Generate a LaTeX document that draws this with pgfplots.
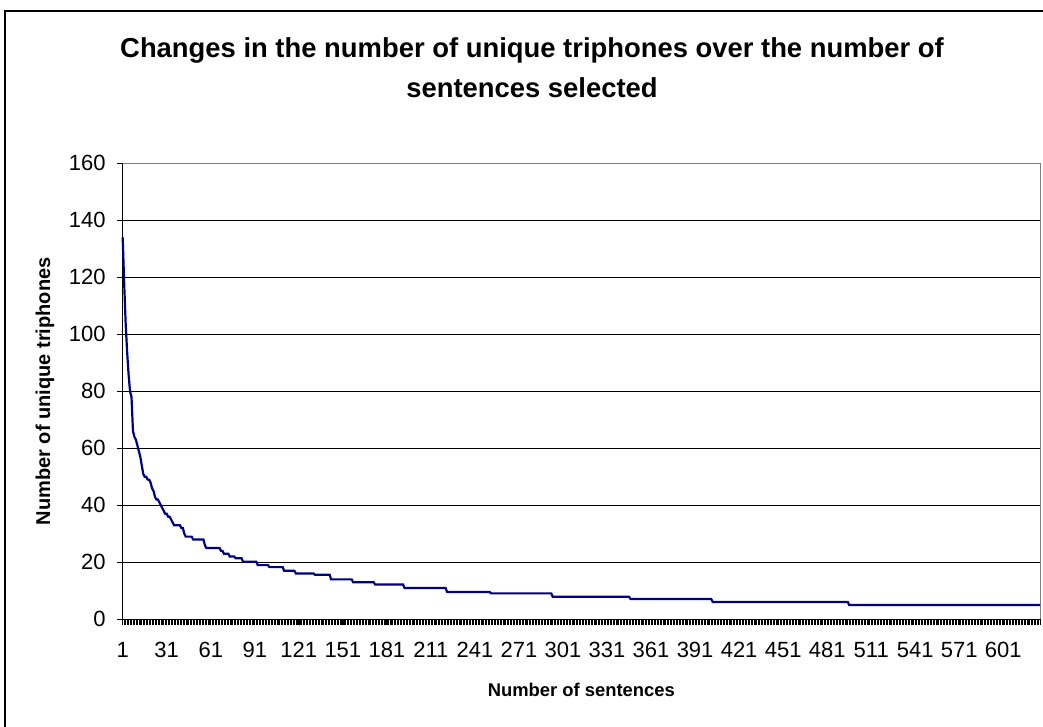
\documentclass[border=0pt]{standalone}
\usepackage{pgfplots}
\pgfplotsset{compat=1.18}
\usepackage{fontspec}
\setmainfont{Liberation Sans}
\definecolor{navyline}{RGB}{0,0,128}
\begin{document}
\begin{tikzpicture}
\path[use as bounding box] (0,0) rectangle (521.5pt,363.5pt);
\draw[black, line width=0.6pt] (2.5pt,-5pt) -- (2.5pt,358pt) -- (530pt,358pt);
\node[font=\bfseries\fontsize{13.7}{16}\selectfont] at (266pt,338.5pt) {Changes in the number of unique triphones over the number of};
\node[font=\bfseries\fontsize{13.7}{16}\selectfont] at (266pt,319.5pt) {sentences selected};
\begin{axis}[
  at={(61.35pt,53.85pt)}, anchor=south west,
  scale only axis, width=458.65pt, height=228pt,
  xmin=1, xmax=626, ymin=0, ymax=160,
  axis lines=left, axis line style={-, black, line width=0.5pt},
  xtick={1,31,...,601},
  minor xtick={1,...,626},
  ytick={0,20,...,160},
  tick align=outside,
  major tick length=3pt, minor tick length=3pt,
  every tick/.style={black, line width=0.4pt},
  minor tick style={black, line width=0.3pt},
  ymajorgrids, major grid style={black, line width=0.5pt},
  tick label style={font=\fontsize{11}{13}\selectfont},
  /pgf/number format/assume math mode=true,
  xticklabel style={yshift=-4.5pt, text height=8pt, text depth=0pt},
  yticklabel style={xshift=-2pt},
  xlabel={Number of sentences},
  ylabel={Number of unique triphones},
  xlabel style={font=\bfseries\fontsize{9.2}{11}\selectfont, at={(rel axis cs:0.5,0)}, anchor=center, yshift=-35.35pt},
  ylabel style={font=\bfseries\fontsize{10}{12}\selectfont, at={(rel axis cs:0,0.5)}, anchor=center, rotate=0, yshift=38.85pt},
  clip=false,
]
\draw[gray, line width=0.5pt] (rel axis cs:0,1) -- (rel axis cs:1,1) -- (rel axis cs:1,0);
\addplot[navyline, line width=1.1pt, mark=none] coordinates {
(1,134)(2,118)(3,104)(4,94)(5,86)(6,80)(7,78)(8,66)(9,64)(10,63)(11,61)(12,59)(13,57)(14,54)(15,51)(16,50)(17,50)(18,49)(19,49)(20,48)(21,46)(22,45)(23,43)(24,42)(25,42)(26,41)(27,40)(28,39)(29,38)(30,37)(31,37)(32,36)(33,36)(34,35)(35,34)(36,33)(40,33)(41,32)(42,32)(43,30)(44,29)(48,29)(49,28)(56,28)(57,26)(58,25)(67,25)(68,24)(69,24)(70,23)(73,23)(74,22)(77,22)(78,21.4)(82,21.4)(83,20.2)(92,20.2)(93,19)(100,19)(101,18.3)(110,18.3)(111,17)(118,17)(119,16.1)(131,16.1)(132,15.6)(142,15.6)(143,14)(157,14)(158,13)(172,13)(173,12.2)(192,12.2)(193,11)(221,11)(222,9.6)(251,9.6)(252,9.1)(293,9.1)(294,7.9)(346,7.9)(347,7.1)(402,7.1)(403,6.1)(495,6.1)(496,5)(626,5)
};
\end{axis}
\end{tikzpicture}
\end{document}
